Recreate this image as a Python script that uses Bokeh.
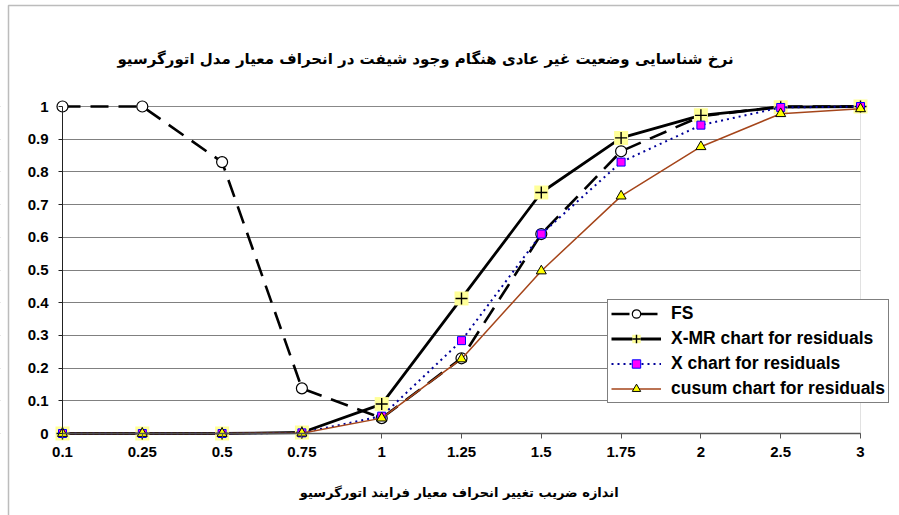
from bokeh.plotting import figure
from bokeh.models import (Range1d, FixedTicker, NumeralTickFormatter, BoxAnnotation,
                          Label, Legend, LegendItem)
from bokeh.embed import file_html
from bokeh.resources import INLINE

# Shift multiplier of the AR process standard deviation (category axis)
categories = ["0.1", "0.25", "0.5", "0.75", "1", "1.25", "1.5", "1.75", "2", "2.5", "3"]

# Detection rate of each monitoring method
fs = [1.0, 1.0, 0.83, 0.138, 0.047, 0.23, 0.61, 0.863, 0.97, 1.0, 1.0]
xmr = [0.0, 0.0, 0.0, 0.003, 0.09, 0.413, 0.737, 0.904, 0.973, 0.998, 1.0]
xchart = [0.0, 0.0, 0.0, 0.002, 0.053, 0.284, 0.61, 0.83, 0.943, 0.997, 1.0]
cusum = [0.0, 0.0, 0.0, 0.001, 0.047, 0.228, 0.497, 0.726, 0.877, 0.978, 0.993]

y_ticks = [0, 0.1, 0.2, 0.3, 0.4, 0.5, 0.6, 0.7, 0.8, 0.9, 1.0]

series_labels = ["FS", "X-MR chart for residuals", "X chart for residuals",
                 "cusum chart for residuals"]
title_text = "نرخ شناسایی وضعیت غیر عادی هنگام وجود شیفت در انحراف معیار مدل اتورگرسیو"
x_title = "اندازه ضریب تغییر انحراف معیار  فرایند اتورگرسیو"

# ---- page geometry (pixels) ----
W, H = 899, 515
AX_L, AX_R = 62, 860      # first / last category
AX_T, AX_B = 106, 433     # value 1 / value 0

xs = list(range(len(categories)))
n = len(categories) - 1
ppx = (AX_R - AX_L) / n
ppy = (AX_B - AX_T) / 1.0


def px_x(px):
    return (px - AX_L) / ppx


def px_y(py):
    return (AX_B - py) / ppy


# the frame spans the whole canvas; axes sit at fixed data locations inside it
p = figure(width=W, height=H, title=None,
           x_range=Range1d(px_x(0), px_x(W)),
           y_range=Range1d(px_y(H), px_y(0)),
           output_backend="svg", toolbar_location=None,
           min_border=0, min_border_left=0, min_border_right=0,
           min_border_top=0, min_border_bottom=0,
           background_fill_color="white", border_fill_color="white",
           outline_line_color=None)

TICK_FONT = "Liberation Sans"
AR_FONT = "DejaVu Sans"

# x axis: categories, drawn along value 0
xa = p.xaxis[0]
xa.ticker = FixedTicker(ticks=xs)
xa.major_label_overrides = {i: c for i, c in zip(xs, categories)}
xa.fixed_location = 0
xa.bounds = (0, n)
xa.axis_line_color = "#555555"
xa.axis_line_width = 1.5
xa.major_tick_line_color = "#555555"
xa.major_tick_in = 0
xa.major_tick_out = 5
xa.minor_tick_line_color = None
xa.major_label_text_font = TICK_FONT
xa.major_label_text_font_style = "bold"
xa.major_label_text_font_size = "15px"
xa.major_label_text_color = "black"
xa.major_label_standoff = 8
xa.axis_label = x_title
xa.axis_label_text_font = AR_FONT
xa.axis_label_text_font_style = "bold"
xa.axis_label_text_font_size = "13px"
xa.axis_label_text_color = "black"
xa.axis_label_standoff = 25

# y axis: rate, drawn at first category
ya = p.yaxis[0]
ya.ticker = FixedTicker(ticks=y_ticks)
ya.formatter = NumeralTickFormatter(format="0.[0]")
ya.fixed_location = 0
ya.bounds = (0, 1)
ya.axis_line_color = "#222222"
ya.axis_line_width = 1
ya.major_tick_line_color = "#222222"
ya.major_tick_in = 0
ya.major_tick_out = 4
ya.minor_tick_line_color = None
ya.major_label_text_font = TICK_FONT
ya.major_label_text_font_style = "bold"
ya.major_label_text_font_size = "15px"
ya.major_label_text_color = "black"
ya.major_label_standoff = 10

p.xgrid.visible = False
p.ygrid.ticker = FixedTicker(ticks=y_ticks)
p.ygrid.grid_line_color = "#808080"
p.ygrid.grid_line_width = 1

# keep gridlines inside the plot area, then outline its right side
p.add_layout(BoxAnnotation(right=0, fill_color="white", fill_alpha=1,
                           line_color=None, level="underlay"))
p.add_layout(BoxAnnotation(left=n, fill_color="white", fill_alpha=1,
                           line_color=None, level="underlay"))
p.add_layout(BoxAnnotation(left=0, right=n, bottom=0, top=1, fill_color=None,
                           line_color="#9a9a9a", line_width=1, level="underlay"))

# ---- series ----
fs_line = p.line(xs, fs, line_color="black", line_width=2.6, line_dash="18 10")
fs_mk = p.scatter(xs, fs, marker="circle", size=11, fill_color="white",
                  line_color="black", line_width=1.2)

xmr_line = p.line(xs, xmr, line_color="black", line_width=2.8)
xmr_bg = p.scatter(xs, xmr, marker="square", size=14, fill_color="#FFFF99",
                   line_color=None)
xmr_mk = p.scatter(xs, xmr, marker="cross", size=12, line_color="black",
                   line_width=1.4)

x_line = p.line(xs, xchart, line_color="#000099", line_width=2, line_dash="2 4")
x_mk = p.scatter(xs, xchart, marker="square", size=8, fill_color="#FF00FF",
                 line_color="#0000FF", line_width=1)

c_line = p.line(xs, cusum, line_color="#A5451A", line_width=1.5)
c_mk = p.scatter(xs, cusum, marker="triangle", size=10, fill_color="#FFFF00",
                 line_color="black", line_width=1)

legend = Legend(items=[
    LegendItem(label=series_labels[0], renderers=[fs_line, fs_mk]),
    LegendItem(label=series_labels[1], renderers=[xmr_line, xmr_bg, xmr_mk]),
    LegendItem(label=series_labels[2], renderers=[x_line, x_mk]),
    LegendItem(label=series_labels[3], renderers=[c_line, c_mk]),
], location=(607, H - 403))
legend.border_line_color = "black"
legend.border_line_width = 1
legend.background_fill_color = "white"
legend.background_fill_alpha = 1
legend.label_text_font = TICK_FONT
legend.label_text_font_style = "bold"
legend.label_text_font_size = "17.5px"
legend.label_text_color = "black"
legend.glyph_width = 50
legend.glyph_height = 21
legend.label_height = 21
legend.spacing = 4
legend.padding = 3
legend.margin = 0
legend.label_standoff = 10
p.add_layout(legend)

# chart title
p.add_layout(Label(x=px_x(425), y=px_y(58), text=title_text,
                   text_align="center", text_baseline="middle",
                   text_font=AR_FONT, text_font_style="bold",
                   text_font_size="15px", text_color="black"))

# chart-area frame (top and left edges fall inside the page)
p.add_layout(BoxAnnotation(left=px_x(8), top=px_y(5), right=px_x(3000),
                           bottom=px_y(3000), fill_color=None,
                           line_color="#222222", line_width=1.5,
                           level="annotation"))

open("out.html", "w").write(file_html(p, INLINE))
